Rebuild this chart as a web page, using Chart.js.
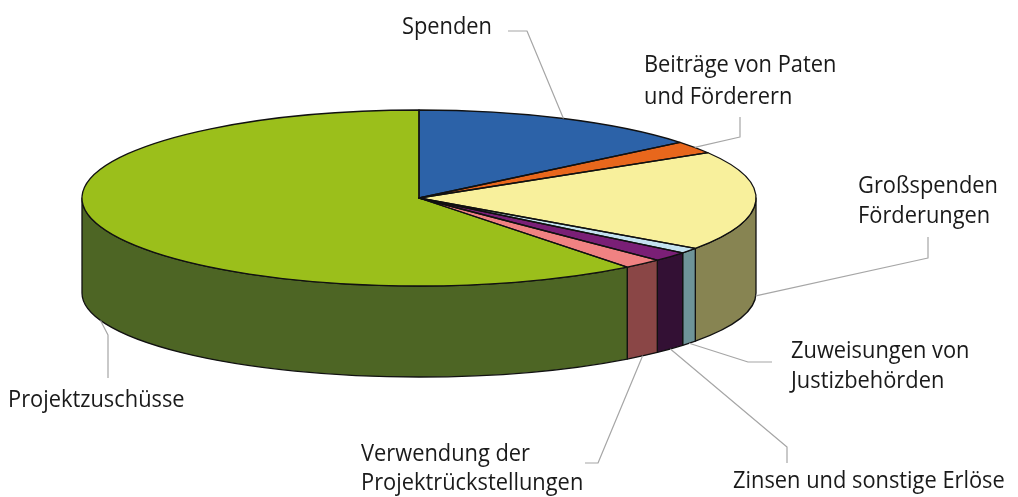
<!DOCTYPE html>
<html>
<head>
<meta charset="utf-8">
<script src="https://cdn.jsdelivr.net/npm/chart.js@4"></script>
<style>body{margin:0;background:#fff}</style>
</head>
<body>
<canvas id="myChart" width="1018" height="497"></canvas>
<script>
var categories = ['Spenden', 'Beiträge von Paten und Förderern', 'Großspenden Förderungen', 'Zuweisungen von Justizbehörden', 'Zinsen und sonstige Erlöse', 'Verwendung der Projektrückstellungen', 'Projektzuschüsse'];
var shares = [14.1, 2.3, 18.3, 1.0, 1.8, 1.9, 60.6];

var topColors = ['#2c62a8', '#e8671c', '#f8f09c', '#c4e2f0', '#7a1f76', '#f08282', '#9bbf1b'];
var sideColors = ['#1f4a80', '#a8480f', '#878452', '#6e9498', '#331034', '#8a4646', '#4d6524'];

// label text, baselines and leader elbows (tip is computed from the slice)
var labels = [
  { lines: ['Spenden'], x: 402, y: [34], elbow: [[508, 31], [527, 31]], face: 'top' },
  { lines: ['Beiträge von Paten', 'und Förderern'], x: 644, y: [72, 104], elbow: [[740, 117], [740, 137]], face: 'top' },
  { lines: ['Großspenden', 'Förderungen'], x: 858, y: [193, 223], elbow: [[928, 237], [928, 258]], face: 'bottom' },
  { lines: ['Zuweisungen von', 'Justizbehörden'], x: 791, y: [358, 388], elbow: [[772, 362], [748, 362]], face: 'bottom' },
  { lines: ['Zinsen und sonstige Erlöse'], x: 733, y: [488], elbow: [[787, 463], [787, 447]], face: 'bottom' },
  { lines: ['Verwendung der', 'Projektrückstellungen'], x: 361, y: [461, 490], elbow: [[585, 463], [598, 463]], face: 'bottom' },
  { lines: ['Projektzuschüsse'], x: 8, y: [407], elbow: [[108, 378], [108, 335]], face: 'bottom' }
];

// ellipse of the top face, and of the bottom edge of the wall
var E = { cx: 419, cy: 198, rx: 337, ry: 88, by: 293, bry: 84 };
function ptTop(a) { return [E.cx + E.rx * Math.cos(a), E.cy + E.ry * Math.sin(a)]; }
function ptBot(a) { return [E.cx + E.rx * Math.cos(a), E.by + E.bry * Math.sin(a)]; }

var pie3d = {
  id: 'pie3d',
  beforeDatasetsDraw: function(chart) {
    var ctx = chart.ctx;
    var arcs = chart.getDatasetMeta(0).data;
    // front walls
    ctx.save();
    ctx.lineWidth = 1.3;
    ctx.strokeStyle = '#111';
    ctx.lineJoin = 'round';
    arcs.forEach(function(arc, i) {
      var a1 = Math.max(arc.startAngle, 0), a2 = Math.min(arc.endAngle, Math.PI);
      if (a2 <= a1) return;
      ctx.beginPath();
      ctx.ellipse(E.cx, E.cy, E.rx, E.ry, 0, a1, a2);
      var b = ptBot(a2);
      ctx.lineTo(b[0], b[1]);
      ctx.ellipse(E.cx, E.by, E.rx, E.bry, 0, a2, a1, true);
      ctx.closePath();
      ctx.fillStyle = sideColors[i];
      ctx.fill();
      ctx.stroke();
    });
    ctx.restore();
    // squash the pie into the top ellipse
    var a0 = arcs[0];
    ctx.save();
    ctx.translate(E.cx, E.cy);
    ctx.scale(E.rx / a0.outerRadius, E.ry / a0.outerRadius);
    ctx.translate(-a0.x, -a0.y);
  },
  afterDatasetsDraw: function(chart) {
    var ctx = chart.ctx;
    ctx.restore();
    var arcs = chart.getDatasetMeta(0).data;
    ctx.save();
    ctx.lineWidth = 1.3;
    ctx.strokeStyle = '#111';
    ctx.lineJoin = 'round';
    arcs.forEach(function(arc) {
      var p = ptTop(arc.startAngle);
      ctx.beginPath();
      ctx.moveTo(E.cx, E.cy);
      ctx.lineTo(p[0], p[1]);
      ctx.ellipse(E.cx, E.cy, E.rx, E.ry, 0, arc.startAngle, arc.endAngle);
      ctx.closePath();
      ctx.stroke();
    });
    // labels and leaders
    ctx.font = '24px "Open Sans"';
    ctx.fillStyle = '#1a1a1a';
    ctx.textBaseline = 'alphabetic';
    ctx.strokeStyle = '#a6a6a6';
    ctx.lineWidth = 1.2;
    labels.forEach(function(l, i) {
      var arc = arcs[i];
      var mid = (arc.startAngle + arc.endAngle) / 2;
      var tip = l.face === 'top' ? ptTop(mid) : ptBot(mid);
      ctx.beginPath();
      ctx.moveTo(l.elbow[0][0], l.elbow[0][1]);
      ctx.lineTo(l.elbow[1][0], l.elbow[1][1]);
      ctx.lineTo(tip[0], tip[1]);
      ctx.stroke();
      l.lines.forEach(function(t, k) {
        ctx.save();
        ctx.translate(l.x, l.y[k]);
        ctx.scale(0.91, 1);
        ctx.fillText(t, 0, 0);
        ctx.restore();
      });
    });
    ctx.restore();
  }
};

var ctx = document.getElementById('myChart').getContext('2d');
var myChart = new Chart(ctx, {
  type: 'pie',
  data: {
    labels: categories,
    datasets: [{
      data: shares,
      backgroundColor: topColors,
      borderWidth: 0
    }]
  },
  options: {
    responsive: false,
    animation: false,
    devicePixelRatio: 1,
    layout: { padding: 0 },
    plugins: {
      legend: { display: false },
      tooltip: { enabled: false }
    },
    events: []
  },
  plugins: [pie3d]
});
</script>
</body>
</html>
